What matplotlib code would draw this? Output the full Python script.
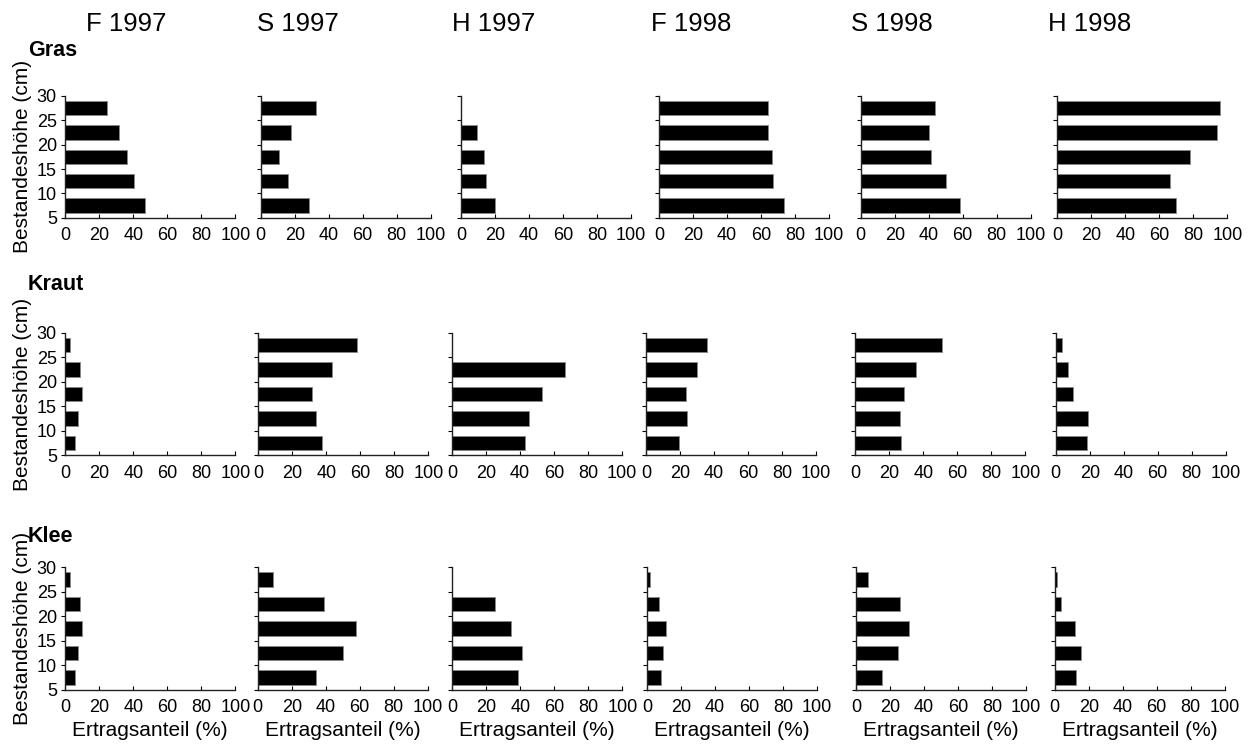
import numpy as np
from matplotlib import pyplot as plt

plt.rcParams['font.family'] = ['Liberation Sans', 'DejaVu Sans']

# Bestandeshöhe classes (bar centres, cm), bottom to top
hoehe = [7.5, 12.5, 17.5, 22.5, 27.5]
spalten = ["F 1997", "S 1997", "H 1997", "F 1998", "S 1998", "H 1998"]
gruppen = ["Gras", "Kraut", "Klee"]

# Ertragsanteil (%) per season, bottom (7.5 cm) to top (27.5 cm)
gras_f97 = [46.6, 40.5, 36.0, 31.6, 24.6]
gras_s97 = [28.7, 16.3, 10.8, 17.9, 32.8]
gras_h97 = [20.0, 14.7, 13.5, 9.4, 0.0]
gras_f98 = [73.7, 67.0, 66.2, 64.4, 64.2]
gras_s98 = [58.7, 50.1, 41.3, 39.9, 43.8]
gras_h98 = [70.1, 66.5, 78.3, 93.9, 95.7]

kraut_f97 = [5.9, 7.4, 9.8, 8.6, 2.5]
kraut_s97 = [37.5, 33.8, 31.6, 43.6, 58.0]
kraut_h97 = [42.9, 45.4, 53.0, 66.3, 0.0]
kraut_f98 = [19.2, 24.1, 23.7, 29.9, 35.8]
kraut_s98 = [26.7, 26.3, 28.7, 35.5, 50.9]
kraut_h98 = [18.2, 18.8, 10.4, 7.0, 3.9]

klee_f97 = [5.9, 7.4, 9.8, 8.6, 2.5]
klee_s97 = [34.4, 50.2, 57.8, 38.9, 9.0]
klee_h97 = [38.6, 40.9, 34.4, 25.2, 0.0]
klee_f98 = [8.0, 9.6, 11.0, 6.8, 1.8]
klee_s98 = [15.5, 24.7, 31.1, 25.6, 6.8]
klee_h98 = [12.3, 15.6, 12.1, 3.9, 1.2]

daten = [
    [gras_f97, gras_s97, gras_h97, gras_f98, gras_s98, gras_h98],
    [kraut_f97, kraut_s97, kraut_h97, kraut_f98, kraut_s98, kraut_h98],
    [klee_f97, klee_s97, klee_h97, klee_f98, klee_s98, klee_h98],
]

# layout in pixels (figure 1250 x 746)
W, H = 1250, 746
row_top = [96, 332.7, 567.3]
row_bot = [217.7, 455.3, 689.7]
col_left = [
    [65.3, 260.7, 461, 659, 860.7, 1057.3],
    [65.3, 258.3, 452, 646, 855.3, 1055.7],
    [65.3, 257.7, 452.3, 647, 856, 1054.7],
]
ax_w = 170
title_x = [126, 298, 494, 691, 892, 1090]
label_y = [50, 285, 537]

fig = plt.figure(figsize=(W / 100, H / 100), dpi=100)

for r in range(3):
    for c in range(6):
        left = col_left[r][c] / W
        bottom = 1 - row_bot[r] / H
        height = (row_bot[r] - row_top[r]) / H
        ax = fig.add_axes([left, bottom, ax_w / W, height])
        ax.barh(hoehe, daten[r][c], height=3.0, color='black',
                edgecolor='#888888', linewidth=0.6)
        ax.set_xlim(0, 100)
        ax.set_ylim(5, 30)
        ax.set_xticks([0, 20, 40, 60, 80, 100])
        ax.set_yticks([5, 10, 15, 20, 25, 30])
        for s in ['top', 'right']:
            ax.spines[s].set_visible(False)
        for s in ['left', 'bottom']:
            ax.spines[s].set_linewidth(1.0)
            ax.spines[s].set_color('#222222')
        ax.tick_params(axis='x', direction='in', length=3, labelsize=13, pad=7)
        ax.tick_params(axis='y', direction='out', length=3, labelsize=13, pad=3)
        if c == 0:
            ax.set_ylabel("Bestandeshöhe (cm)", fontsize=15)
            ax.yaxis.set_label_coords(-33 / ax_w, 0.5)
        else:
            ax.set_yticklabels([])
        if r == 2:
            ax.set_xlabel("Ertragsanteil (%)", fontsize=15, labelpad=3)

for c in range(6):
    fig.text(title_x[c] / W, 1 - 24 / H, spalten[c], fontsize=18.5,
             ha='center', va='center')

for r in range(3):
    fig.text(28 / W, 1 - label_y[r] / H, gruppen[r], fontsize=15.5,
             fontweight='bold', ha='left', va='center')

fig.savefig('out.png', dpi=100)
